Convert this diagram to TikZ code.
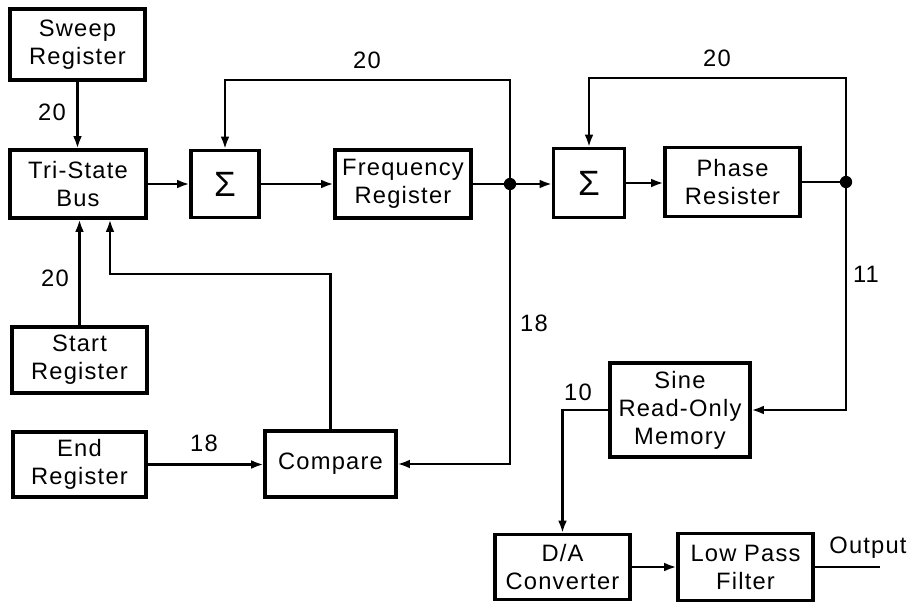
\documentclass[tikz,border=0pt]{standalone}
\usepackage{fontspec}
\setmainfont[LetterSpace=5]{Liberation Sans}
\usetikzlibrary{arrows.meta}
\begin{document}
\begin{tikzpicture}[x=0.02cm,y=-0.02cm,
  font=\fontsize{13.5}{16}\selectfont,
  blk/.style={draw,line width=1.8pt,align=center,inner sep=0pt},
  wire/.style={line width=1.3pt},
  arr/.style={wire,-{Latex[length=7pt,width=5pt]}},
  lbl/.style={inner sep=0pt},
  dot/.style={circle,fill,inner sep=0pt,minimum size=7pt}]
\useasboundingbox (0,0) rectangle (915,602);
% boxes
\node[blk,minimum width=2.7cm,minimum height=1.42cm] (sweep) at (77.5,44.5) {Sweep\\Register};
\node[blk,minimum width=2.72cm,minimum height=1.36cm] (tsb) at (78,184) {Tri-State\\Bus};
\node[blk,minimum width=1.36cm,minimum height=1.34cm,font=\fontsize{20}{20}\selectfont] (sig1) at (225,184) {Σ};
\node[blk,minimum width=2.72cm,minimum height=1.36cm] (freq) at (403,184) {Frequency\\Register};
\node[blk,minimum width=1.42cm,minimum height=1.38cm,font=\fontsize{20}{20}\selectfont] (sig2) at (589,183) {Σ};
\node[blk,minimum width=2.7cm,minimum height=1.38cm] (phase) at (732.5,182) {Phase\\Resister};
\node[blk,minimum width=2.7cm,minimum height=1.32cm] (start) at (79.5,360) {Start\\Register};
\node[blk,minimum width=2.66cm,minimum height=1.3cm] (endr) at (79.5,464.5) {End\\Register};
\node[blk,minimum width=2.62cm,minimum height=1.32cm] (cmp) at (330.5,464) {Compare};
\node[blk,minimum width=2.8cm,minimum height=1.88cm] (rom) at (680,410) {Sine\\Read-Only\\Memory};
\node[blk,minimum width=2.7cm,minimum height=1.3cm] (da) at (562.5,567) {D/A\\Converter};
\node[blk,minimum width=2.7cm,minimum height=1.34cm] (lpf) at (745.5,567) {Low Pass\\Filter};
% coordinates
\coordinate (j1) at (510,184);
\coordinate (j2) at (846,182);
\coordinate (top1) at (0,80);
\coordinate (top2) at (0,78);
\coordinate (fb) at (110,274);
\coordinate (out) at (880,567);
% connectors
\draw[arr] (sweep.south) -- (sweep.south |- tsb.north);
\draw[arr] (start.north) -- (start.north |- tsb.south);
\draw[arr] (cmp.north) |- (fb) -- (fb |- tsb.south);
\draw[arr] (tsb.east) -- (sig1.west);
\draw[arr] (sig1.east) -- (sig1.east -| freq.west);
\draw[wire] (freq.east) -- (j1);
\draw[arr] (j1) -- (j1 -| sig2.west);
\draw[arr] (j1) |- (sig1.north |- top1) -- (sig1.north);
\draw[arr] (j1) |- (cmp.east);
\draw[arr] (endr.east) -- (endr.east -| cmp.west);
\draw[arr] (sig2.east) -- (sig2.east -| phase.west);
\draw[wire] (phase.east) -- (j2);
\draw[arr] (j2) |- (sig2.north |- top2) -- (sig2.north);
\draw[arr] (j2) |- (rom.east);
\draw[arr] (rom.west) -| (da.north);
\draw[arr] (da.east) -- (da.east -| lpf.west);
\draw[wire] (lpf.east) -- (out);
\node[dot] (d1) at (j1) {};
\node[dot] (d2) at (j2) {};
% labels
\node[lbl] (l1) at (52,112) {20};
\node[lbl] (l2) at (367,60) {20};
\node[lbl] (l3) at (717,58) {20};
\node[lbl] (l4) at (55,278) {20};
\node[lbl] (l5) at (534,323) {18};
\node[lbl] (l6) at (866,274) {11};
\node[lbl] (l7) at (578,392) {10};
\node[lbl] (l8) at (204,443) {18};
\node[lbl] (l9) at (868,548) {Output};
\end{tikzpicture}
\end{document}
